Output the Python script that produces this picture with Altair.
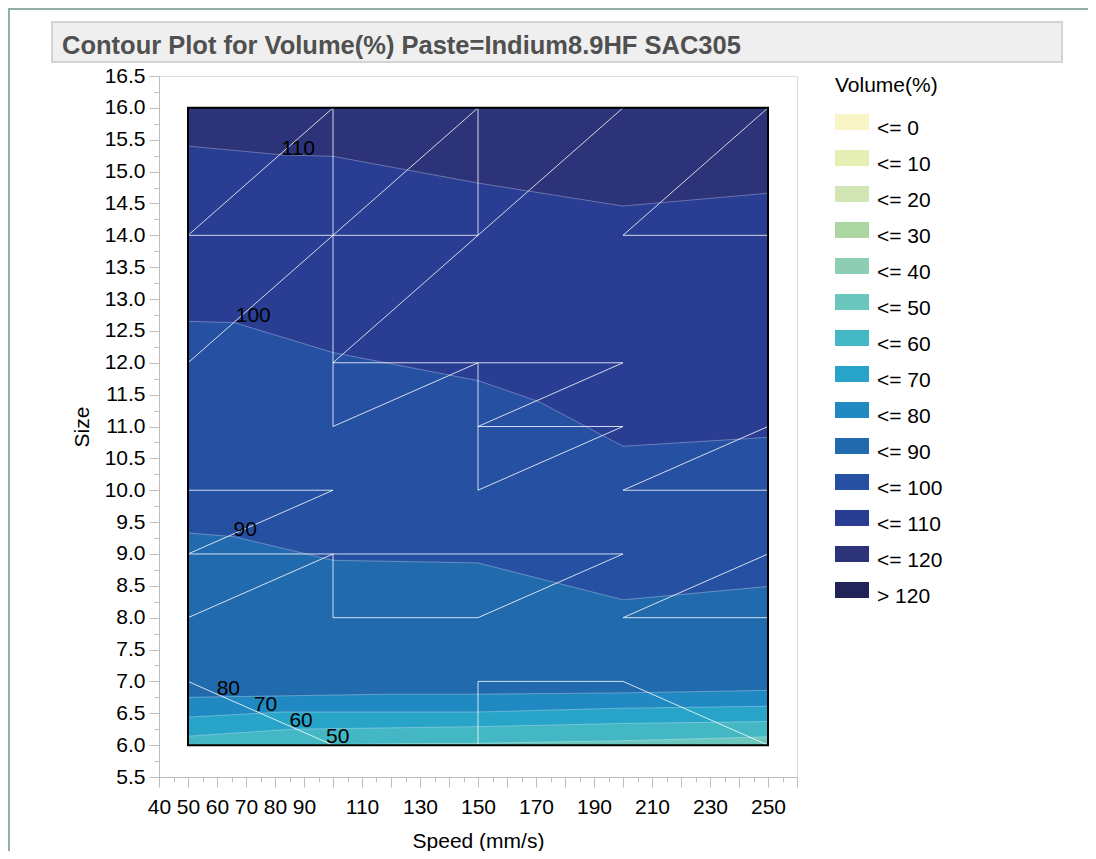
import altair as alt
import pandas as pd

TITLE = "Contour Plot for Volume(%) Paste=Indium8.9HF SAC305"
X_TITLE = "Speed (mm/s)"
Y_TITLE = "Size"
LEGEND_TITLE = "Volume(%)"
FONT = "Liberation Sans"

band_labels = ["<= 0", "<= 10", "<= 20", "<= 30", "<= 40", "<= 50", "<= 60",
               "<= 70", "<= 80", "<= 90", "<= 100", "<= 110", "<= 120", "> 120"]
band_colors = ["#f7f5c5", "#e7f0b4", "#d2e6b5", "#acd6a1", "#8ccdb4", "#6bc6be", "#43b7c4",
               "#28a4c8", "#2189c2", "#226aae", "#2651a2", "#293d93", "#2d3378", "#212359"]

speed_range = [50, 250]
size_range = [6, 16]
top_band = "<= 120"

# contour boundaries (speed, size)
c110_speed = [50, 83, 100, 150, 200, 250]
c110_size = [15.40, 15.26, 15.24, 14.82, 14.46, 14.66]
c100_speed = [50, 66, 100, 150, 171, 200, 250]
c100_size = [12.65, 12.63, 12.16, 11.72, 11.39, 10.69, 10.83]
c90_speed = [50, 66, 100, 150, 200, 250]
c90_size = [9.33, 9.27, 8.90, 8.86, 8.28, 8.49]
c80_speed = [50, 120, 150, 200, 250]
c80_size = [6.75, 6.80, 6.80, 6.82, 6.86]
c70_speed = [50, 83, 150, 200, 250]
c70_size = [6.44, 6.52, 6.52, 6.58, 6.61]
c60_speed = [50, 86, 150, 200, 250]
c60_size = [6.14, 6.25, 6.29, 6.34, 6.37]
c50_speed = [50, 85, 120, 150, 200, 250]
c50_size = [6.0, 6.0, 6.02, 6.03, 6.07, 6.13]

contours = [
    (110, c110_speed, c110_size),
    (100, c100_speed, c100_size),
    (90, c90_speed, c90_size),
    (80, c80_speed, c80_size),
    (70, c70_speed, c70_size),
    (60, c60_speed, c60_size),
    (50, c50_speed, c50_size),
]

# triangulation mesh segments
mesh_x1 = [50, 100, 150, 200, 50, 200, 100, 150, 50, 100, 100, 100, 150, 150, 150, 150, 200, 200,
           50, 50, 50, 50, 100, 100, 150, 200, 200, 50, 150, 150, 200]
mesh_y1 = [14, 14, 14, 14, 14, 14, 11, 14, 12, 12, 12, 11, 11, 10, 11, 10, 10, 10,
           10, 9, 9, 8, 8, 8, 8, 8, 8, 7, 7, 6, 7]
mesh_x2 = [100, 150, 200, 250, 150, 250, 100, 150, 100, 150, 200, 150, 200, 150, 200, 200, 250, 250,
           100, 100, 200, 100, 100, 150, 200, 250, 250, 100, 200, 150, 250]
mesh_y2 = [16, 16, 16, 16, 14, 14, 16, 16, 14, 14, 12, 12, 12, 12, 11, 11, 11, 10,
           10, 10, 9, 9, 9, 8, 9, 8, 9, 6, 7, 7, 6]

label_text = ["110", "100", "90", "80", "70", "60", "50"]
label_speed = [88, 72.5, 69.7, 63.9, 76.7, 89, 101.6]
label_size = [15.35, 12.73, 9.375, 6.88, 6.636, 6.377, 6.133]

x_ticks = list(range(40, 261, 10))
x_labels = [40, 50, 60, 70, 80, 90, 110, 130, 150, 170, 190, 210, 230, 250]
x_minor = list(range(40, 261, 5))
y_ticks = [5.5 + 0.5 * i for i in range(23)]
y_minor = [5.5 + 0.25 * i for i in range(45)]

W, H = 638, 701

xscale = alt.Scale(domain=[40, 260], nice=False, zero=False)
yscale = alt.Scale(domain=[5.5, 16.5], nice=False, zero=False)
color_scale = alt.Scale(domain=band_labels, range=band_colors)

legend = alt.Legend(
    title=LEGEND_TITLE, orient="none", legendX=676, legendY=-1,
    symbolType="M-1,-0.88H1V0.06H-1Z", symbolSize=1156, symbolStrokeWidth=0,
    symbolOpacity=1, rowPadding=9, labelOffset=8, labelBaseline="middle",
    labelFontSize=21, labelFont=FONT, labelColor="#000000",
    titleFontSize=21, titleFont=FONT, titleFontWeight="normal", titleColor="#000000",
    titlePadding=16, padding=0,
)

axis_common = dict(grid=False, domainColor="#bdbdbd", tickColor="#bdbdbd",
                   labelFont=FONT, labelFontSize=21, labelColor="#000000",
                   titleFont=FONT, titleFontSize=21, titleFontWeight="normal",
                   titleColor="#000000", labelOverlap=False, labelFlush=False)

x_axis = alt.Axis(values=x_ticks, orient="bottom", tickSize=10, labelPadding=9,
                  titlePadding=13,
                  labelExpr="indexof(" + str(x_labels) + ", datum.value) >= 0 ? datum.label : ''",
                  **axis_common)
y_axis = alt.Axis(values=y_ticks, orient="left", format=".1f", tickSize=10, labelPadding=4,
                  titlePadding=12, **axis_common)
x_minor_axis = alt.Axis(values=x_minor, orient="bottom", tickSize=5, labels=False, domain=False,
                        title=None, grid=False, tickColor="#bdbdbd")
y_minor_axis = alt.Axis(values=y_minor, orient="left", tickSize=5, labels=False, domain=False,
                        title=None, grid=False, tickColor="#bdbdbd")

region_df = pd.DataFrame({"x": [speed_range[0]], "x2": [speed_range[1]],
                          "y": [size_range[0]], "y2": [size_range[1]], "band": [top_band]})

base = alt.Chart(region_df).mark_rect().encode(
    x=alt.X("x:Q", scale=xscale, axis=x_axis, title=X_TITLE),
    x2="x2:Q",
    y=alt.Y("y:Q", scale=yscale, axis=y_axis, title=Y_TITLE),
    y2="y2:Q",
    color=alt.Color("band:N", scale=color_scale, legend=legend),
)

layers = [base]
line_rows = []
for level, sp, sz in contours:
    df = pd.DataFrame({"speed": sp, "size": sz, "base": [size_range[0]] * len(sp),
                       "band": ["<= %d" % level] * len(sp)})
    layers.append(alt.Chart(df).mark_area().encode(
        x=alt.X("speed:Q", scale=xscale, axis=None),
        y=alt.Y("size:Q", scale=yscale, axis=None, stack=None),
        y2="base:Q",
        color=alt.Color("band:N", scale=color_scale, legend=legend),
    ))
    for s, z in zip(sp, sz):
        line_rows.append({"level": level, "speed": s, "size": z})

lines = alt.Chart(pd.DataFrame(line_rows)).mark_line(color="white", opacity=0.3, strokeWidth=1).encode(
    x=alt.X("speed:Q", scale=xscale, axis=None),
    y=alt.Y("size:Q", scale=yscale, axis=None),
    detail="level:N",
)
layers.append(lines)

mesh_df = pd.DataFrame({"x1": mesh_x1, "y1": mesh_y1, "x2": mesh_x2, "y2": mesh_y2})
mesh = alt.Chart(mesh_df).mark_rule(color="white", opacity=0.8, strokeWidth=1).encode(
    x=alt.X("x1:Q", scale=xscale, axis=None),
    y=alt.Y("y1:Q", scale=yscale, axis=None),
    x2="x2:Q",
    y2="y2:Q",
)
layers.append(mesh)

frame = alt.Chart(region_df).mark_rect(fillOpacity=0, stroke="black", strokeWidth=2).encode(
    x=alt.X("x:Q", scale=xscale, axis=x_minor_axis),
    x2="x2:Q",
    y=alt.Y("y:Q", scale=yscale, axis=y_minor_axis),
    y2="y2:Q",
)
layers.append(frame)

labels_df = pd.DataFrame({"speed": label_speed, "size": label_size, "text": label_text})
labels = alt.Chart(labels_df).mark_text(font=FONT, fontSize=21, color="black", baseline="middle").encode(
    x=alt.X("speed:Q", scale=xscale, axis=None),
    y=alt.Y("size:Q", scale=yscale, axis=None),
    text="text:N",
)
layers.append(labels)

one = pd.DataFrame({"t": [TITLE]})
banner = alt.Chart(one).mark_rect(fill="#efefef", stroke="#d3d3d3", strokeWidth=2).encode(
    x=alt.value(-107), x2=alt.value(903), y=alt.value(-54), y2=alt.value(-14))
title = alt.Chart(one).mark_text(font=FONT, fontSize=25.5, fontWeight="bold", color="#505050",
                                 align="left", baseline="alphabetic").encode(
    x=alt.value(-97), y=alt.value(-22), text="t:N")
frame_top = alt.Chart(one).mark_rule(color="#8fb0a3", strokeWidth=2).encode(
    x=alt.value(-151), x2=alt.value(929), y=alt.value(-67))
frame_left = alt.Chart(one).mark_rule(color="#8fb0a3", strokeWidth=2).encode(
    x=alt.value(-150), y=alt.value(-68), y2=alt.value(775))
layers += [banner, title, frame_top, frame_left]

chart = alt.layer(*layers).resolve_axis(x="independent", y="independent").properties(
    width=W, height=H,
    padding={"left": 151, "top": 68, "right": 291, "bottom": 74},
    autosize=alt.AutoSizeParams(type="none"),
).configure_view(stroke="#c8c8c8", strokeWidth=1).configure(font=FONT)

chart.save("out.html", embed_options={"renderer": "svg", "actions": False})
